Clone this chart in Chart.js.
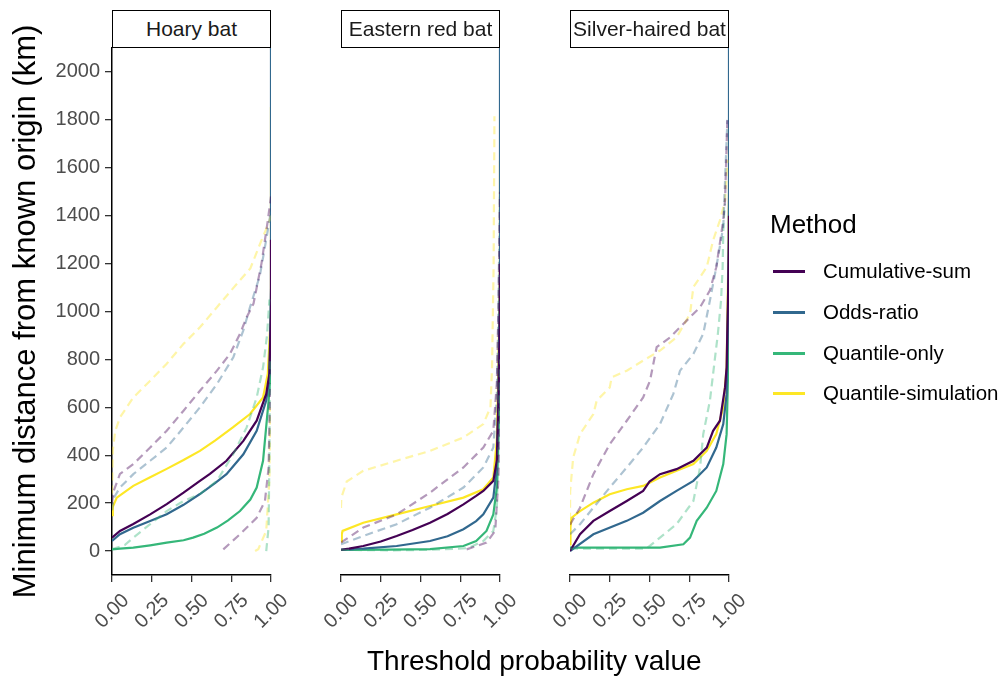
<!DOCTYPE html>
<html>
<head>
<meta charset="utf-8">
<script src="https://cdn.jsdelivr.net/npm/chart.js@4.4.1/dist/chart.umd.min.js"></script>
<style>
  body { margin: 0; background: #fff; font-family: 'Liberation Sans', Arial, sans-serif; }
  #wrap { position: relative; width: 1003px; height: 679px; overflow: hidden; }
  #wrap canvas { position: absolute; left: 0; top: 0; }
  .strip { position: absolute; top: 10px; height: 38px; width: 159px; border: 1.5px solid #000;
           box-sizing: border-box; font-size: 21px; text-align: center; line-height: 35px; color: #1a1a1a; background: #fff; }
  #xtitle { position: absolute; left: 367px; top: 645px; font-size: 28px; color: #000; white-space: nowrap; }
  #legend { position: absolute; left: 770px; top: 209px; }
  #legend .ttl { font-size: 26px; color: #000; margin-bottom: 10px; }
  #legend .item { position: absolute; left: 3px; height: 24px; white-space: nowrap; font-size: 20.5px; color: #000; }
  #legend .item span.ln { position: absolute; left: 0; top: 11px; width: 32px; height: 2.5px; }
  #legend .item span.tx { position: absolute; left: 50px; top: 0; line-height: 24px; }
</style>
</head>
<body>
<div id="wrap">
  <canvas id="c0" width="1003" height="679"></canvas>
  <canvas id="c1" width="1003" height="679"></canvas>
  <canvas id="c2" width="1003" height="679"></canvas>
  <div class="strip" style="left:112px">Hoary bat</div>
  <div class="strip" style="left:341px">Eastern red bat</div>
  <div class="strip" style="left:570px">Silver-haired bat</div>
  <div id="xtitle">Threshold probability value</div>
  <div id="legend"></div>
</div>
<script>
// categories
const species = ['Hoary bat', 'Eastern red bat', 'Silver-haired bat'];
const methods = ['Cumulative-sum', 'Odds-ratio', 'Quantile-only', 'Quantile-simulation'];
const methodColors = ['#440154', '#31688E', '#35B779', '#FDE725'];

// tick labels
const xTicks = [0, 0.25, 0.5, 0.75, 1];
const yTicks = [0, 200, 400, 600, 800, 1000, 1200, 1400, 1600, 1800, 2000];

// ---- Hoary bat ----
// solid lines
const hoaryCumX = [0, 0.05, 0.134, 0.24, 0.344, 0.45, 0.553, 0.616, 0.72, 0.826, 0.91, 0.97, 0.99, 1, 1];
const hoaryCumY = [56, 84, 113, 153, 196, 244, 293, 322, 377, 460, 544, 656, 740, 1000, 1300];
const hoaryOddX = [0, 0.05, 0.134, 0.24, 0.344, 0.45, 0.553, 0.65, 0.72, 0.826, 0.91, 0.97, 0.99, 1, 1];
const hoaryOddY = [42, 70, 97, 125, 154, 193, 238, 285, 321, 404, 502, 628, 725, 1100, 2200];
const hoaryQoX = [0, 0.05, 0.134, 0.24, 0.344, 0.45, 0.51, 0.58, 0.66, 0.73, 0.805, 0.87, 0.91, 0.95, 0.985, 1, 1];
const hoaryQoY = [7, 10, 14, 24, 35, 45, 56, 72, 98, 128, 167, 215, 265, 377, 628, 760, 1050];
const hoaryQsX = [0, 0.005, 0.03, 0.134, 0.24, 0.344, 0.45, 0.553, 0.65, 0.76, 0.868, 0.95, 0.98, 1, 1];
const hoaryQsY = [150, 185, 223, 272, 308, 343, 380, 418, 462, 516, 572, 641, 740, 1000, 1855];
// dashed lines
const hoaryCumDX = [0, 0.01, 0.05, 0.134, 0.24, 0.344, 0.45, 0.553, 0.66, 0.742, 0.805, 0.847, 0.89, 0.94, 0.98, 1];
const hoaryCumDY = [200, 250, 322, 363, 432, 502, 586, 669, 753, 823, 907, 976, 1033, 1200, 1380, 1480];
const hoaryCumD2X = [0.7, 0.805, 0.91, 0.962, 0.985, 0.995];
const hoaryCumD2Y = [7, 70, 139, 209, 349, 700];
const hoaryOddDX = [0, 0.01, 0.05, 0.134, 0.24, 0.344, 0.45, 0.553, 0.66, 0.763, 0.826, 0.868, 0.93, 0.97, 1];
const hoaryOddDY = [170, 220, 265, 321, 377, 432, 516, 600, 697, 809, 921, 1018, 1150, 1300, 1420];
const hoaryQoDX = [0, 0.08, 0.134, 0.24, 0.344, 0.45, 0.553, 0.66, 0.763, 0.847, 0.91, 0.95, 0.975, 0.99];
const hoaryQoDY = [8, 25, 56, 112, 167, 209, 238, 293, 405, 516, 641, 767, 900, 1050];
const hoaryQoD2X = [0.97, 0.985, 0.99, 0.995];
const hoaryQoD2Y = [0, 100, 400, 800];
const hoaryQsDX = [0, 0.005, 0.02, 0.05, 0.134, 0.24, 0.344, 0.45, 0.553, 0.66, 0.75, 0.87, 0.94, 0.98, 1];
const hoaryQsDY = [240, 420, 500, 558, 641, 711, 782, 865, 934, 1018, 1088, 1180, 1297, 1360, 1400];
const hoaryQsD2X = [0.9, 0.92, 0.97, 0.99, 0.995];
const hoaryQsD2Y = [0, 8, 84, 300, 600];

// ---- Eastern red bat ----
const redCumX = [0, 0.05, 0.14, 0.25, 0.35, 0.45, 0.56, 0.67, 0.77, 0.85, 0.895, 0.958, 0.98, 0.99, 1, 1];
const redCumY = [5, 10, 21, 40, 63, 88, 118, 155, 195, 230, 251, 293, 377, 628, 1000, 1200];
const redOddX = [0, 0.14, 0.35, 0.56, 0.67, 0.77, 0.85, 0.895, 0.958, 0.98, 0.99, 1, 1];
const redOddY = [5, 10, 21, 42, 62, 91, 125, 153, 223, 349, 628, 1200, 2200];
const redQoX = [0, 0.3, 0.56, 0.77, 0.85, 0.915, 0.958, 0.98, 0.99, 1, 1];
const redQoY = [5, 6, 8, 21, 42, 84, 153, 265, 488, 700, 920];
const redQsX = [0, 0.005, 0.01, 0.14, 0.35, 0.56, 0.77, 0.895, 0.958, 0.98, 0.99, 1, 1];
const redQsY = [40, 70, 84, 118, 153, 188, 223, 258, 307, 460, 767, 1200, 1630];
const redCumDX = [0, 0.14, 0.35, 0.56, 0.77, 0.895, 0.958, 0.98, 0.99, 1];
const redCumDY = [35, 98, 153, 244, 349, 432, 502, 700, 1000, 1500];
const redCumD2X = [0.79, 0.915, 0.97, 0.99, 1];
const redCumD2Y = [7, 35, 84, 300, 600];
const redOddDX = [0, 0.14, 0.35, 0.56, 0.77, 0.895, 0.958, 0.98, 0.99, 1];
const redOddDY = [28, 63, 112, 181, 265, 349, 432, 650, 1000, 1500];
const redQoDX = [0, 0.3, 0.56, 0.8, 0.895, 0.958, 0.98, 0.99, 1];
const redQoDY = [5, 3, 5, 12, 42, 84, 181, 400, 800];
const redQsDX = [0, 0.002, 0.036, 0.14, 0.35, 0.56, 0.77, 0.895, 0.94, 0.95, 0.96, 0.965];
const redQsDY = [180, 223, 290, 335, 377, 418, 474, 530, 600, 767, 1200, 1815];

// ---- Silver-haired bat ----
const silverCumX = [0, 0.063, 0.147, 0.25, 0.357, 0.46, 0.5, 0.566, 0.67, 0.776, 0.86, 0.9, 0.943, 0.975, 0.985, 0.995, 1, 1];
const silverCumY = [0, 70, 126, 167, 209, 251, 290, 321, 342, 377, 432, 502, 544, 683, 767, 1100, 1300, 1400];
const silverOddX = [0, 0.147, 0.357, 0.46, 0.566, 0.67, 0.776, 0.86, 0.92, 0.964, 0.985, 0.995, 1, 1];
const silverOddY = [0, 70, 126, 160, 209, 251, 293, 349, 432, 530, 655, 1046, 1500, 2200];
const silverQoX = [0, 0.3, 0.566, 0.713, 0.755, 0.797, 0.86, 0.92, 0.964, 0.985, 0.995, 1, 1];
const silverQoY = [14, 14, 14, 28, 56, 126, 181, 251, 363, 488, 767, 900, 1000];
const silverQsX = [0, 0.003, 0.01, 0.063, 0.147, 0.25, 0.357, 0.46, 0.566, 0.67, 0.776, 0.86, 0.92, 0.964, 0.985, 0.995, 1, 1];
const silverQsY = [28, 100, 139, 167, 202, 237, 258, 272, 307, 335, 363, 418, 488, 600, 767, 1185, 1500, 1771];
const silverCumDX = [0, 0.063, 0.147, 0.25, 0.357, 0.46, 0.503, 0.545, 0.629, 0.734, 0.818, 0.88, 0.92, 0.964, 0.975, 0.99];
const silverCumDY = [110, 181, 321, 446, 544, 641, 711, 851, 892, 962, 1018, 1088, 1185, 1381, 1464, 1813];
const silverOddDX = [0, 0.063, 0.147, 0.25, 0.357, 0.46, 0.566, 0.65, 0.692, 0.776, 0.838, 0.88, 0.92, 0.964, 0.99];
const silverOddDY = [70, 112, 181, 265, 349, 432, 530, 656, 753, 823, 907, 1046, 1185, 1353, 1800];
const silverQoDX = [0, 0.25, 0.48, 0.566, 0.67, 0.776, 0.818, 0.838, 0.88, 0.93, 0.95, 0.96, 0.965, 0.975];
const silverQoDY = [10, 10, 10, 56, 112, 209, 349, 488, 628, 907, 1046, 1185, 1370, 1450];
const silverQsDX = [0, 0.001, 0.02, 0.063, 0.147, 0.168, 0.25, 0.262, 0.357, 0.46, 0.566, 0.67, 0.755, 0.776, 0.86, 0.9, 0.943, 0.975, 0.99];
const silverQsDY = [126, 250, 390, 488, 572, 628, 683, 725, 753, 795, 837, 892, 990, 1102, 1185, 1297, 1381, 1464, 1632];

// panel line lists: [x, y, method index, dashed]
const panelLines = [
  [[hoaryCumDX, hoaryCumDY, 0, true], [hoaryCumD2X, hoaryCumD2Y, 0, true], [hoaryOddDX, hoaryOddDY, 1, true],
   [hoaryQoDX, hoaryQoDY, 2, true], [hoaryQoD2X, hoaryQoD2Y, 2, true], [hoaryQsDX, hoaryQsDY, 3, true], [hoaryQsD2X, hoaryQsD2Y, 3, true],
   [hoaryCumX, hoaryCumY, 0, false], [hoaryOddX, hoaryOddY, 1, false], [hoaryQoX, hoaryQoY, 2, false], [hoaryQsX, hoaryQsY, 3, false]],
  [[redCumDX, redCumDY, 0, true], [redCumD2X, redCumD2Y, 0, true], [redOddDX, redOddDY, 1, true],
   [redQoDX, redQoDY, 2, true], [redQsDX, redQsDY, 3, true],
   [redCumX, redCumY, 0, false], [redOddX, redOddY, 1, false], [redQoX, redQoY, 2, false], [redQsX, redQsY, 3, false]],
  [[silverCumDX, silverCumDY, 0, true], [silverOddDX, silverOddDY, 1, true],
   [silverQoDX, silverQoDY, 2, true], [silverQsDX, silverQsDY, 3, true],
   [silverCumX, silverCumY, 0, false], [silverOddX, silverOddY, 1, false], [silverQoX, silverQoY, 2, false], [silverQsX, silverQsY, 3, false]]
];

// panel placement (pixels)
const panelLeft = [112, 341, 570];
const panelWidth = 159;
const panelTop = 48;
const panelBottom = 575;

Chart.defaults.font.family = "'Liberation Sans', Arial, sans-serif";

function fade(hex, a) {
  const n = parseInt(hex.slice(1), 16);
  return `rgba(${n >> 16}, ${(n >> 8) & 255}, ${n & 255}, ${a})`;
}

function buildPanel(idx) {
  const ctx = document.getElementById('c' + idx).getContext('2d');
  const datasets = panelLines[idx].map(([xs, ys, m, dashed]) => ({
    data: xs.map((x, i) => ({ x: x, y: ys[i] })),
    borderColor: dashed ? fade(methodColors[m], 0.4) : methodColors[m],
    borderWidth: 2.2,
    borderDash: dashed ? [8, 5] : [],
    pointRadius: 0,
    tension: 0,
    fill: false
  }));
  const first = idx === 0;
  return new Chart(ctx, {
    type: 'line',
    data: { datasets: datasets },
    options: {
      responsive: false,
      animation: false,
      devicePixelRatio: 1,
      layout: {
        padding: { left: 0, right: 1003 - panelLeft[idx] - panelWidth, top: panelTop, bottom: 0 }
      },
      plugins: { legend: { display: false }, tooltip: { enabled: false } },
      scales: {
        x: {
          type: 'linear', min: 0, max: 1,
          afterBuildTicks: s => { s.ticks = xTicks.map(v => ({ value: v })); },
          afterFit: s => { s.height = 679 - panelBottom; },
          grid: { display: true, drawOnChartArea: false, drawTicks: true, tickLength: 7, color: '#333', lineWidth: 1.3 },
          border: { display: true, color: '#000', width: 1.5 },
          ticks: {
            color: '#4d4d4d', font: { size: 20 }, padding: 7, labelOffset: 14,
            maxRotation: 45, minRotation: 45, autoSkip: false,
            callback: v => v.toFixed(2)
          }
        },
        y: {
          type: 'linear', min: -100, max: 2100,
          afterBuildTicks: s => { s.ticks = yTicks.map(v => ({ value: v })); },
          afterFit: s => { s.width = panelLeft[idx]; },
          grid: { display: first, drawOnChartArea: false, drawTicks: true, tickLength: 7, color: '#333', lineWidth: 1.3 },
          border: { display: first, color: '#000', width: 1.5 },
          ticks: { display: first, color: '#4d4d4d', font: { size: 20 }, padding: 5, callback: v => String(v) },
          title: {
            display: first, text: 'Minimum distance from known origin (km)',
            color: '#000', font: { size: 31 }, padding: { top: 8, bottom: 0 }
          }
        }
      }
    }
  });
}

[0, 1, 2].forEach(buildPanel);

// legend (HTML)
const legendEl = document.getElementById('legend');
legendEl.innerHTML = '<div class="ttl">Method</div>';
const legendY = [50, 91, 132, 172];
methods.forEach((m, i) => {
  const item = document.createElement('div');
  item.className = 'item';
  item.style.top = legendY[i] + 'px';
  item.innerHTML = `<span class="ln" style="background:${methodColors[i]}"></span><span class="tx">${m}</span>`;
  legendEl.appendChild(item);
});
</script>
</body>
</html>
